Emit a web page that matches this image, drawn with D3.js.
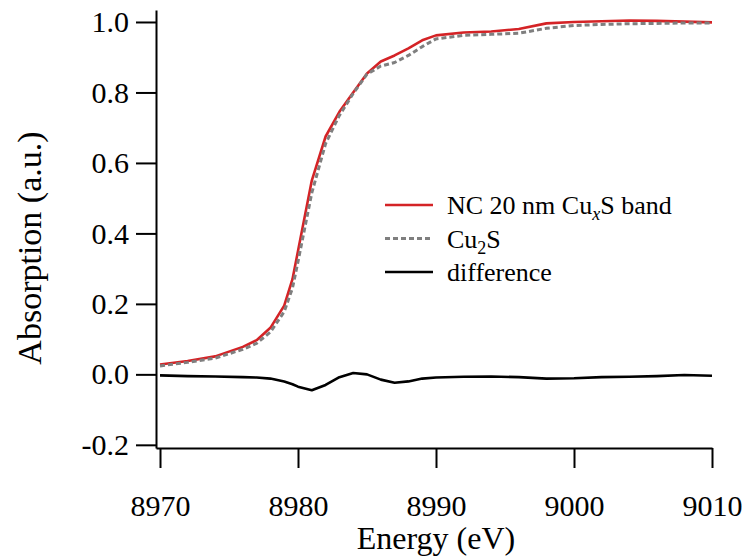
<!DOCTYPE html>
<html>
<head>
<meta charset="utf-8">
<script src="https://cdn.jsdelivr.net/npm/d3@7"></script>
<style>
  body { margin: 0; background: #fff; }
</style>
</head>
<body>
<svg></svg>
<script>
const width = 744;
const height = 556;
const serif = "'Liberation Serif', 'DejaVu Serif', 'Noto Serif', Tinos, 'Times New Roman', Times, serif";

// energy grid (eV) and the three curves
const energy = [8970, 8972, 8974, 8976, 8977, 8978, 8979, 8979.6, 8980, 8981, 8982, 8983, 8984, 8985,
    8986, 8987, 8988, 8989, 8990, 8992, 8994, 8996, 8998, 9000, 9002, 9004, 9006, 9008, 9010];
const ncBand = [0.028, 0.038, 0.051, 0.078, 0.097, 0.132, 0.195, 0.27, 0.35, 0.55, 0.675, 0.745, 0.80, 0.854,
    0.888, 0.905, 0.925, 0.948, 0.962, 0.970, 0.973, 0.980, 0.996, 1.000, 1.002, 1.004, 1.003, 1.001, 0.999];
const cu2s = [0.024, 0.034, 0.046, 0.071, 0.088, 0.120, 0.178, 0.245, 0.32, 0.515, 0.655, 0.735, 0.797, 0.852,
    0.875, 0.885, 0.905, 0.930, 0.952, 0.962, 0.965, 0.968, 0.982, 0.990, 0.993, 0.995, 0.996, 0.997, 0.997];
const difference = [-0.003, -0.005, -0.006, -0.008, -0.009, -0.012, -0.020, -0.028, -0.035, -0.045, -0.030, -0.008, 0.004, 0.000,
    -0.015, -0.024, -0.020, -0.012, -0.009, -0.007, -0.006, -0.008, -0.012, -0.011, -0.008, -0.007, -0.005, -0.002, -0.004];

const xTicks = [8970, 8980, 8990, 9000, 9010];
const yTicks = [-0.2, 0.0, 0.2, 0.4, 0.6, 0.8, 1.0];

const seriesNames = ['NC 20 nm CuxS band', 'Cu2S', 'difference'];

const svg = d3.select('svg')
    .attr('width', width)
    .attr('height', height)
    .attr('font-family', serif);

const x = d3.scaleLinear().domain([8969.71, 9010]).range([156, 712]);
const y = d3.scaleLinear().domain([-0.209, 1.034]).range([448, 10]);

const series = [
    { name: seriesNames[0], values: ncBand, color: '#d42326', width: 2.6, dash: null },
    { name: seriesNames[1], values: cu2s, color: '#7f7f7f', width: 3, dash: '5,3' },
    { name: seriesNames[2], values: difference, color: '#000000', width: 2.6, dash: null }
];

const line = d3.line()
    .x(d => x(d[0]))
    .y(d => y(d[1]));

// curves
svg.append('g').selectAll('path')
    .data(series)
    .enter().append('path')
    .attr('d', s => line(energy.map((e, i) => [e, s.values[i]])))
    .attr('fill', 'none')
    .attr('stroke', s => s.color)
    .attr('stroke-width', s => s.width)
    .attr('stroke-dasharray', s => s.dash)
    .attr('stroke-linejoin', 'round');

// axes
const xAxis = svg.append('g')
    .attr('transform', 'translate(0,448)')
    .call(d3.axisBottom(x).tickValues(xTicks).tickSize(20).tickSizeOuter(0).tickPadding(27)
        .tickFormat(d3.format('d')));

const yAxis = svg.append('g')
    .attr('transform', 'translate(156,0)')
    .call(d3.axisLeft(y).tickValues(yTicks).tickSize(20).tickSizeOuter(0).tickPadding(7)
        .tickFormat(d => d.toFixed(1)));

[xAxis, yAxis].forEach(a => {
    a.attr('font-family', serif).attr('font-size', 30);
    a.selectAll('path, line').attr('stroke', '#000').attr('stroke-width', 2);
    a.selectAll('text').attr('fill', '#000');
});

// axis titles
svg.append('text')
    .attr('x', 436)
    .attr('y', 549)
    .attr('text-anchor', 'middle')
    .attr('font-size', 32)
    .text('Energy (eV)');

svg.append('text')
    .attr('transform', 'translate(41,248) rotate(-90)')
    .attr('text-anchor', 'middle')
    .attr('font-size', 34)
    .text('Absorption (a.u.)');

// legend
const legend = svg.append('g').attr('transform', 'translate(385,205)');
const rows = legend.selectAll('g')
    .data(series)
    .enter().append('g')
    .attr('transform', (d, i) => `translate(0,${i * 33.5})`);

rows.append('line')
    .attr('x1', 0).attr('x2', 48)
    .attr('stroke', d => d.color)
    .attr('stroke-width', d => d.width)
    .attr('stroke-dasharray', d => d.dash);

const label = rows.append('text')
    .attr('x', 62)
    .attr('y', 9)
    .attr('font-size', 26);

label.each(function(d, i) {
    const t = d3.select(this);
    if (i === 0) {
        t.append('tspan').text('NC 20 nm Cu');
        t.append('tspan').attr('font-style', 'italic').attr('dy', 6).attr('font-size', 18).text('x');
        t.append('tspan').attr('dy', -6).text('S band');
    } else if (i === 1) {
        t.append('tspan').text('Cu');
        t.append('tspan').attr('dy', 6).attr('font-size', 18).text('2');
        t.append('tspan').attr('dy', -6).text('S');
    } else {
        t.text(d.name);
    }
});
</script>
</body>
</html>
